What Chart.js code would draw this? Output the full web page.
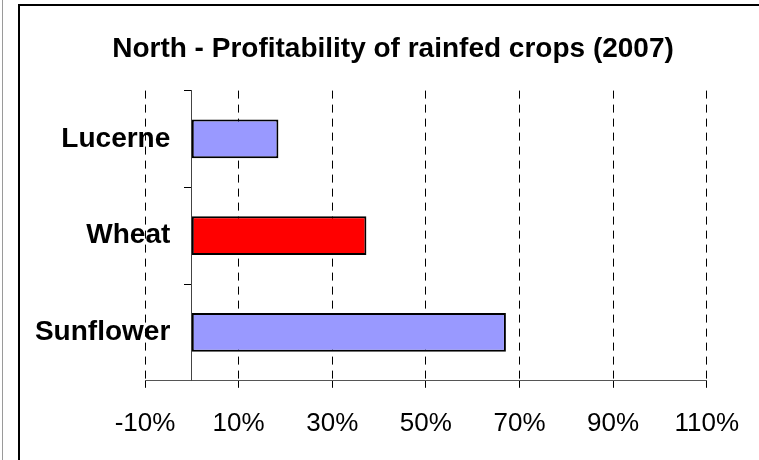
<!DOCTYPE html>
<html><head><meta charset="utf-8">
<script src="https://cdn.jsdelivr.net/npm/chart.js@4"></script>
<style>
html,body{margin:0;padding:0;background:#fff;overflow:hidden;}
#wrap{position:relative;width:759px;height:460px;overflow:hidden;}
#gray{position:absolute;left:2px;top:0;width:1px;height:460px;background:#9a9a9a;}
#frame{position:absolute;left:18px;top:4px;width:800px;height:500px;border:2px solid #000;box-sizing:border-box;}
canvas{position:absolute;left:0;top:0;}
</style></head><body>
<div id="wrap"><div id="gray"></div><div id="frame"></div><canvas id="c" width="759" height="460"></canvas></div>
<script>
const categories = ['Lucerne', 'Wheat', 'Sunflower'];
const profitability = [18.5, 37.3, 67.1];
const barColors = ['#9999FF', '#FF0000', '#9999FF'];
const xTicks = [-10, 10, 30, 50, 70, 90, 110];
const titleText = 'North - Profitability of rainfed crops (2007)';

const FONT = "'Liberation Sans', Arial, sans-serif";

new Chart(document.getElementById('c'), {
  type: 'bar',
  data: {
    labels: categories,
    datasets: [{
      data: profitability,
      backgroundColor: barColors,
      borderColor: '#000',
      borderWidth: 2,
      borderSkipped: false,
      categoryPercentage: 0.4,
      barPercentage: 1.0,
      xAxisID: 'x',
      yAxisID: 'y'
    }]
  },
  options: {
    indexAxis: 'y',
    responsive: false,
    animation: false,
    devicePixelRatio: 1,
    layout: { padding: { left: 78, right: 51, top: 0, bottom: 1 } },
    plugins: {
      legend: { display: false },
      tooltip: { enabled: false },
      title: {
        display: true,
        text: titleText,
        color: '#000',
        font: { family: FONT, size: 28, weight: 'bold' },
        padding: { top: 32, bottom: 25 }
      }
    },
    scales: {
      x: {
        type: 'linear',
        position: 'bottom',
        min: -10,
        max: 110,
        afterBuildTicks: s => { s.ticks = xTicks.map(v => ({ value: v })); },
        grid: {
          display: true,
          color: '#000',
          lineWidth: 1,
          drawTicks: true,
          tickLength: 7,
          tickColor: '#000',
          tickBorderDash: []
        },
        border: { display: true, color: '#555', width: 1, dash: [8, 6] },
        ticks: {
          color: '#000',
          font: { family: FONT, size: 26 },
          padding: 20,
          maxRotation: 0,
          callback: v => v + '%'
        }
      },
      y: {
        type: 'category',
        position: 'left',
        offset: true,
        afterFit: s => { s.width = 67; },
        grid: { display: false, drawTicks: false },
        border: { display: false },
        ticks: { display: false }
      },
      yLabels: {
        type: 'category',
        position: { x: -4.6 },
        offset: true,
        labels: categories,
        grid: { display: false, drawTicks: false, offset: true },
        border: { display: false },
        ticks: {
          color: '#000',
          font: { family: FONT, size: 28, weight: 'bold' },
          padding: 0
        }
      },
      yAxisLine: {
        type: 'category',
        position: { x: 0 },
        offset: true,
        labels: categories,
        grid: {
          display: true,
          offset: true,
          drawOnChartArea: false,
          drawTicks: true,
          tickLength: 7,
          color: '#000',
          tickColor: '#000'
        },
        border: { display: true, color: '#444', width: 1 },
        ticks: { display: false }
      }
    }
  }
});
</script>
</body></html>
